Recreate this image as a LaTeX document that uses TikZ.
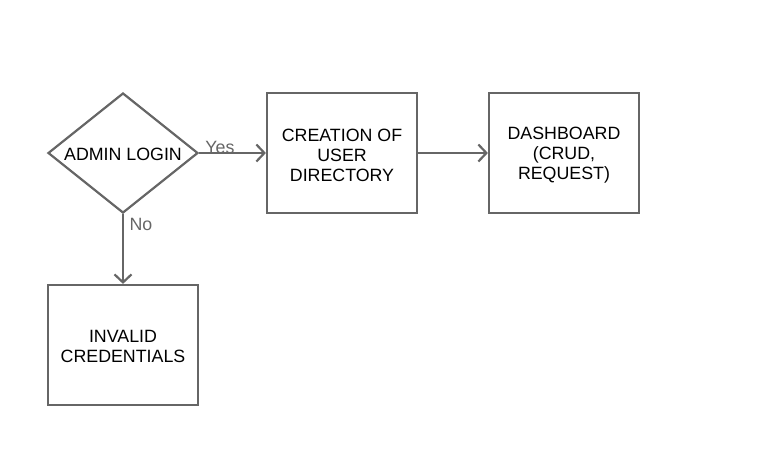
\documentclass[tikz,border=0pt]{standalone}
\usepackage{fontspec}
\setmainfont{Liberation Sans}
\usetikzlibrary{arrows.meta,shapes.geometric}
\definecolor{linegray}{HTML}{666666}
\begin{document}
\begin{tikzpicture}[x=1pt,y=-1pt,
  every node/.style={font=\fontsize{17.8}{20}\selectfont, text=black, align=center},
  procbox/.style={draw=linegray, line width=2.2pt, minimum width=150pt, minimum height=120pt, inner sep=0pt},
  decision/.style={draw=linegray, line width=2.2pt, diamond, minimum width=150pt, minimum height=120pt, inner sep=0pt},
  flow/.style={draw=linegray, line width=2.2pt, -{Straight Barb[length=8pt,width=17pt,line width=2.2pt]}},
  lbl/.style={text=linegray, inner sep=0pt}
]
\useasboundingbox (0,0) rectangle (773,475);
\node[decision] (login) at (123,153) {};
\node at (123,154) {ADMIN LOGIN};
\node[procbox] (create) at (342,153) {};
\node at (342,155) {CREATION OF\\USER\\DIRECTORY};
\node[procbox] (dash) at (564,153) {};
\node at (564,155) {DASHBOARD\\(CRUD,\\REQUEST)};
\node[procbox] (invalid) at (123,345) {};
\node at (123,346) {INVALID\\CREDENTIALS};
\draw[flow] (login.east) -- (create.west);
\draw[flow] (create.east) -- (dash.west);
\draw[flow] (login.south) -- (invalid.north);
\node[lbl] (yes) at (220,147) {Yes};
\node[lbl] (no) at (141,224) {No};
\end{tikzpicture}
\end{document}
